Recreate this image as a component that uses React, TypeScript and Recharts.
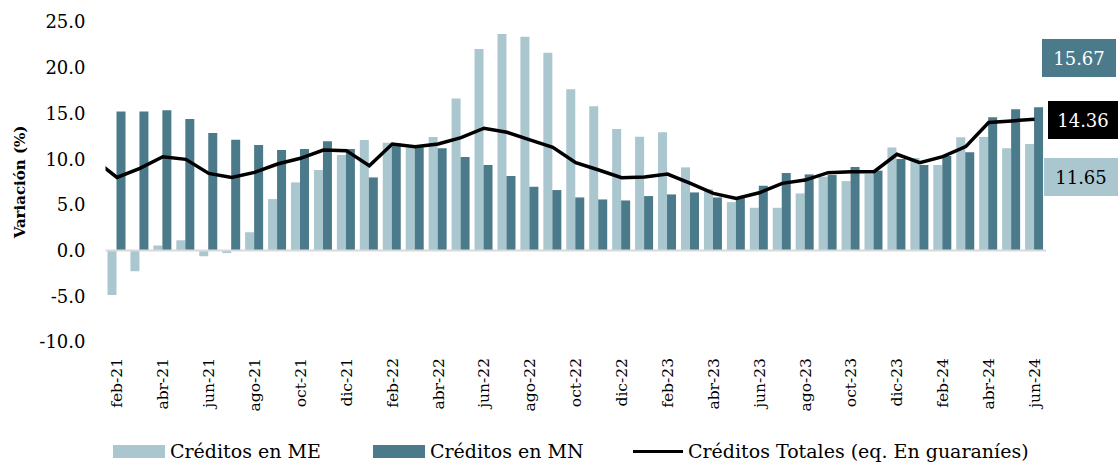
import { Bar, ComposedChart, Line, ReferenceLine, XAxis, YAxis } from "recharts";

// ene-21 only feeds the line stub that enters from the left edge
const months = [
  "ene-21", "feb-21", "mar-21", "abr-21", "may-21", "jun-21", "jul-21", "ago-21", "sep-21", "oct-21", "nov-21", "dic-21",
  "ene-22", "feb-22", "mar-22", "abr-22", "may-22", "jun-22", "jul-22", "ago-22", "sep-22", "oct-22", "nov-22", "dic-22",
  "ene-23", "feb-23", "mar-23", "abr-23", "may-23", "jun-23", "jul-23", "ago-23", "sep-23", "oct-23", "nov-23", "dic-23",
  "ene-24", "feb-24", "mar-24", "abr-24", "may-24", "jun-24",
];

const creditosME = [
  null, -4.86, -2.27, 0.55, 1.13, -0.62, -0.26, 2.01, 5.63, 7.46, 8.81, 10.45,
  12.1, 11.8, 11.25, 12.42, 16.63, 22.04, 23.68, 23.39, 21.64, 17.65, 15.79, 13.3,
  12.46, 12.94, 9.1, 6.71, 5.3, 4.68, 4.68, 6.25, 8.08, 7.6, 8.37, 11.26,
  10.12, 9.36, 12.39, 12.43, 11.18, 11.65,
];

const creditosMN = [
  null, 15.2, 15.2, 15.35, 14.4, 12.87, 12.13, 11.55, 11.0, 11.11, 11.95, 11.11,
  8.0, 11.73, 11.3, 11.18, 10.23, 9.36, 8.15, 6.98, 6.62, 5.81, 5.59, 5.48,
  5.96, 6.14, 6.36, 5.81, 5.74, 7.09, 8.48, 8.33, 8.26, 9.14, 8.74, 10.01,
  9.36, 10.34, 10.75, 14.58, 15.46, 15.67,
];

const creditosTotales = [
  10.0, 8.0, 9.0, 10.27, 9.98, 8.44, 8.0, 8.55, 9.47, 10.09, 11.0, 10.93,
  9.28, 11.65, 11.37, 11.66, 12.35, 13.38, 12.94, 12.1, 11.29, 9.61, 8.81, 7.97,
  8.04, 8.37, 7.35, 6.25, 5.7, 6.32, 7.35, 7.71, 8.52, 8.63, 8.63, 10.53,
  9.61, 10.27, 11.37, 14.0, 14.18, 14.36,
];

const yTicks = [-10, -5, 0, 5, 10, 15, 20, 25];

const LIGHT = "#AAC7CF";
const DARK = "#4B7A8A";
const FONT = "'DejaVu Serif', 'Liberation Serif', serif";

const data = months.map((month, idx) => ({
  idx,
  month,
  me: creditosME[idx],
  mn: creditosMN[idx],
  total: creditosTotales[idx],
}));

// every second month, starting at feb-21
const xTicks = data.filter((d) => d.idx % 2 === 1).map((d) => d.idx);

function MonthTick({ x, y, payload }: any) {
  return (
    <text
      x={x}
      y={y}
      dy="0.35em"
      fill="#000"
      fontFamily={FONT}
      fontSize={15.5}
      textAnchor="end"
      transform={`rotate(-90 ${x} ${y})`}
    >
      {months[payload.value]}
    </text>
  );
}

function LegendItem({ left, label, kind }: { left: number; label: string; kind: "light" | "dark" | "line" }) {
  const swatch =
    kind === "line" ? (
      <span style={{ background: "#000", display: "inline-block", height: 3, width: 50 }} />
    ) : (
      <span style={{ background: kind === "light" ? LIGHT : DARK, display: "inline-block", height: 13, width: 52 }} />
    );
  return (
    <div style={{ alignItems: "center", display: "flex", gap: 5, left, position: "absolute", top: 438 }}>
      {swatch}
      <span style={{ fontSize: 19, lineHeight: "26px" }}>{label}</span>
    </div>
  );
}

export default function App() {
  const lastME = creditosME[creditosME.length - 1] as number;
  const lastMN = creditosMN[creditosMN.length - 1] as number;
  const lastTotal = creditosTotales[creditosTotales.length - 1];
  const boxStyle = { alignItems: "center", display: "flex", fontSize: 18, height: 38, justifyContent: "center", position: "absolute" as const };

  return (
    <div style={{ fontFamily: FONT, height: 463, position: "relative", width: 1118 }}>
      <style>{"body{margin:0}"}</style>
      <ComposedChart
        barCategoryGap={0}
        barGap={0}
        data={data}
        height={463}
        margin={{ bottom: 0, left: 0, right: 72, top: 22 }}
        width={1118}
      >
        <XAxis
          allowDataOverflow
          axisLine={false}
          dataKey="idx"
          domain={[0.5, 41.5]}
          height={121}
          interval={0}
          tick={<MonthTick />}
          tickLine={false}
          tickMargin={16}
          tickSize={0}
          ticks={xTicks}
          type="number"
        />
        <YAxis
          axisLine={false}
          domain={[-10, 25]}
          tick={{ fill: "#000", fontFamily: FONT, fontSize: 18 }}
          tickFormatter={(v: number) => v.toFixed(1)}
          tickLine={false}
          tickMargin={20}
          tickSize={0}
          ticks={yTicks}
          width={105.5}
        />
        <Bar barSize={9} dataKey="me" fill={LIGHT} isAnimationActive={false} name="Créditos en ME" />
        <Bar barSize={9} dataKey="mn" fill={DARK} isAnimationActive={false} name="Créditos en MN" />
        <ReferenceLine stroke="#D9D9D9" strokeWidth={2} y={0} />
        <Line
          dataKey="total"
          dot={false}
          isAnimationActive={false}
          name="Créditos Totales (eq. En guaraníes)"
          stroke="#000"
          strokeWidth={3.5}
          type="linear"
        />
      </ComposedChart>

      <div
        style={{
          fontSize: 15,
          fontWeight: "bold",
          left: 20,
          position: "absolute",
          top: 182,
          transform: "translate(-50%, -50%) rotate(-90deg)",
          whiteSpace: "nowrap",
        }}
      >
        Variación (%)
      </div>

      <div style={{ ...boxStyle, background: DARK, color: "#fff", left: 1042, top: 39, width: 74 }}>{lastMN.toFixed(2)}</div>
      <div style={{ ...boxStyle, background: "#000", color: "#fff", left: 1048, top: 101, width: 70 }}>{lastTotal.toFixed(2)}</div>
      <div style={{ ...boxStyle, background: LIGHT, color: "#000", left: 1044, top: 158, width: 74 }}>{lastME.toFixed(2)}</div>

      <LegendItem kind="light" label="Créditos en ME" left={113} />
      <LegendItem kind="dark" label="Créditos en MN" left={373} />
      <LegendItem kind="line" label="Créditos Totales (eq. En guaraníes)" left={633} />
    </div>
  );
}
